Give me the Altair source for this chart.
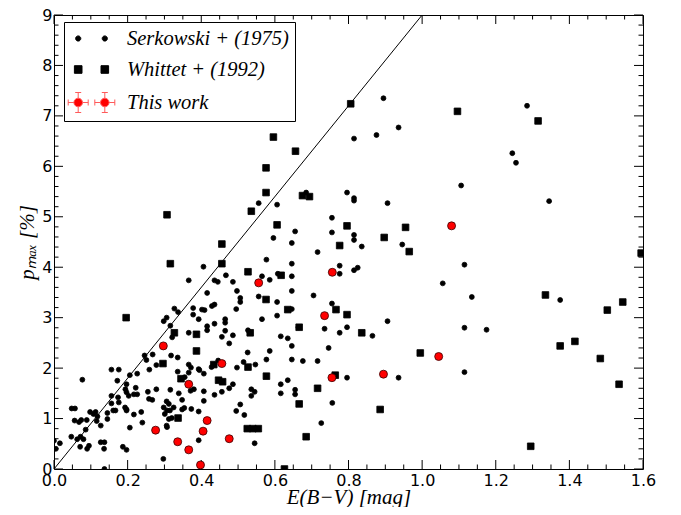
import altair as alt
import pandas as pd

# ---------------- data ----------------
serk_E = [0.895, 1.285, 0.815, 0.876, 0.936, 1.245, 1.255, 1.106, 0.685, 0.796, 0.815, 0.815,
          1.345, 0.946, 1.115, 1.056, 1.135, 1.375, 1.115, 1.175, 1.115, 0.936,
          0.556, 0.606, 0.906, 0.655, 0.596, 0.646, 0.755, 0.755, 0.815, 0.815, 0.836, 0.716,
          0.406, 0.577, 0.646, 0.565, 0.586, 0.608, 0.646, 0.467, 0.436, 0.445, 0.486, 0.416,
          0.497, 0.506, 0.506, 0.436, 0.429, 0.402, 0.409, 0.495, 0.556, 0.606, 0.646, 0.646,
          0.606, 0.565, 0.705, 0.776, 0.776, 0.815, 0.825, 0.755, 0.664, 0.735, 0.796, 0.906,
          0.527, 0.465, 0.465, 0.436, 0.416, 0.416, 0.393,
          0.465, 0.616, 0.635, 0.456, 0.486, 0.476, 0.646, 0.865, 0.776, 0.526, 0.586, 0.746,
          0.577, 0.646, 0.676, 0.716, 0.436, 0.428, 0.446, 0.515, 0.547, 0.497, 0.407, 0.393,
          0.486, 0.476, 0.796, 0.616, 0.635, 0.655, 0.655, 0.616, 0.536, 0.545, 0.536, 0.456,
          0.436, 0.407, 0.407, 0.756, 0.506, 0.495, 0.517, 0.393, 0.726, 0.545, 0.393,
          0.321, 0.366, 0.246, 0.268, 0.251, 0.318, 0.336, 0.278, 0.366, 0.372, 0.336, 0.355,
          0.366, 0.395, 0.156, 0.176, 0.206, 0.226, 0.259, 0.077, 0.172, 0.197, 0.194, 0.222,
          0.217, 0.156, 0.174, 0.197, 0.226, 0.255, 0.278, 0.267, 0.258, 0.316, 0.339, 0.348,
          0.371, 0.380, 0.156, 0.176, 0.203, 0.193, 0.197, 0.306, 0.312, 0.298, 0.307, 0.315,
          0.301, 0.325, 0.348, 0.354, 0.373, 0.048, 0.057, 0.098, 0.107, 0.113, 0.118, 0.145,
          0.161, 0.167, 0.197, 0.217, 0.237, 0.320, 0.312, 0.056, 0.068, 0.074, 0.089, 0.116,
          0.127, 0.145, 0.086, 0.072, 0.063, 0.080, 0.047, 0.016, 0.206, 0.240, 0.306, 0.307,
          0.005, 0.000, 0.071, 0.095, 0.090, 0.127, 0.137, 0.136, 0.187, 0.197, 0.297, 0.137,
          0.366, 0.327, 0.337, 0.378, 0.378, 0.298, 0.306, 0.316]
serk_p = [7.35, 7.20, 6.55, 6.62, 6.77, 6.26, 6.07, 5.62, 5.48, 5.48, 5.37, 5.32,
          5.31, 4.45, 4.05, 3.68, 3.41, 3.35, 2.80, 2.76, 1.92, 1.81,
          5.27, 5.24, 5.27, 4.71, 4.58, 4.48, 4.98, 4.69, 4.64, 4.54, 4.41, 4.30,
          4.01, 4.15, 4.07, 3.82, 3.75, 3.87, 3.82, 3.84, 3.74, 3.71, 3.71, 3.49,
          3.53, 3.39, 3.31, 3.26, 3.23, 3.16, 3.15, 3.17, 3.42, 3.31, 3.53, 3.17,
          3.04, 2.97, 3.44, 4.03, 3.87, 3.94, 3.99, 3.28, 2.81, 2.78, 2.81, 2.93,
          2.75, 2.97, 2.90, 2.88, 2.83, 2.75, 2.97,
          2.74, 2.63, 2.59, 2.62, 2.65, 2.49, 2.44, 2.64, 2.70, 2.31, 2.34, 2.40,
          2.17, 2.17, 2.14, 2.14, 2.07, 2.02, 2.15, 2.12, 2.07, 2.01, 1.89, 1.98,
          1.68, 1.60, 1.81, 1.68, 1.76, 1.57, 1.48, 1.50, 1.58, 1.53, 1.45, 1.53,
          1.47, 1.54, 1.35, 1.31, 1.28, 1.15, 1.07, 1.14, 0.91, 0.51, 0.57,
          2.61, 2.70, 2.25, 2.27, 2.16, 2.25, 2.21, 2.06, 2.07, 2.01, 1.93, 1.82,
          1.91, 1.96, 1.97, 1.97, 1.86, 1.89, 1.97, 1.77, 1.75, 1.68, 1.58, 1.61,
          1.48, 1.45, 1.42, 1.52, 1.48, 1.53, 1.58, 1.37, 1.39, 1.57, 1.50, 1.37,
          1.55, 1.58, 1.30, 1.32, 1.45, 1.22, 1.18, 1.34, 1.29, 1.22, 1.16, 1.16,
          1.09, 1.22, 1.18, 1.21, 1.19, 1.20, 1.20, 1.13, 1.09, 1.13, 1.04, 1.11,
          1.16, 1.16, 1.16, 1.08, 1.13, 1.01, 0.99, 0.96, 0.93, 0.97, 0.97, 0.95,
          0.86, 0.99, 0.78, 0.64, 0.59, 0.59, 0.64, 0.51, 0.82, 0.92, 0.86, 0.83,
          0.40, 0.56, 0.44, 0.46, 0.40, 0.53, 0.53, 0.40, 0.44, 0.38, 0.20, 0.00,
          3.74, 3.18, 3.11, 3.19, 3.06, 2.93, 3.00, 2.84]

whit_E = [0.806, 1.096, 1.315, 0.596, 0.656, 0.576, 0.576, 0.675, 0.694,
          0.536, 0.606, 0.796, 0.897, 0.776, 0.456, 0.456, 0.527, 0.617, 0.576, 0.635, 0.766,
          0.796, 0.666, 0.955, 0.965, 1.595, 1.335, 1.545, 1.503,
          1.375, 1.415, 1.484, 1.535, 1.295, 0.995,
          0.533, 0.836, 0.434, 0.527, 0.447, 0.458, 0.577, 0.764, 0.716, 0.666, 0.886,
          0.525, 0.540, 0.555, 0.685, 0.626,
          0.307, 0.316, 0.196, 0.327, 0.387, 0.387, 0.296, 0.345, 0.337]
whit_p = [7.24, 7.09, 6.90, 6.58, 6.30, 5.97, 5.48, 5.42, 5.40,
          5.11, 4.84, 4.82, 4.59, 4.43, 4.46, 4.07, 3.91, 3.84, 3.36, 3.16, 3.16,
          3.06, 2.81, 4.79, 4.31, 4.28, 3.45, 3.31, 3.15,
          2.44, 2.53, 2.19, 1.68, 0.45, 2.30,
          2.70, 2.70, 2.07, 2.02, 1.76, 1.73, 1.84, 1.86, 1.60, 1.29, 1.18,
          0.80, 0.80, 0.80, 0.64, 0.00,
          5.04, 4.07, 3.00, 2.70, 2.67, 2.34, 2.09, 1.79, 1.01]

this_E = [1.08, 0.756, 0.556, 0.735, 0.297, 0.456, 0.895, 0.755, 1.045,
          0.366, 0.416, 0.276, 0.405, 0.476, 0.336, 0.366, 0.398]
this_p = [4.82, 3.90, 3.69, 3.04, 2.44, 2.09, 1.88, 1.81, 2.23,
          1.68, 0.96, 0.77, 0.75, 0.60, 0.54, 0.38, 0.08]

line_E = [0.0, 1.0]
line_p = [0.0, 9.0]

x_major = [0.0, 0.2, 0.4, 0.6, 0.8, 1.0, 1.2, 1.4, 1.6]
y_major = [0, 1, 2, 3, 4, 5, 6, 7, 8, 9]
x_minor = [round(0.05 * i, 2) for i in range(33) if i % 4 != 0]
y_minor = [round(0.2 * i, 1) for i in range(46) if i % 5 != 0]

series_names = ["Serkowski + (1975)", "Whittet + (1992)", "This work"]


# ---------------- legend symbols (two markers per entry, like matplotlib) ----------------
def circ(cx, r):
    return (f"M{cx - r:.3f},0 A{r},{r} 0 1,0 {cx + r:.3f},0 "
            f"A{r},{r} 0 1,0 {cx - r:.3f},0 Z ")


def sq(cx, h):
    return (f"M{cx - h:.3f},{-h} L{cx + h:.3f},{-h} L{cx + h:.3f},{h} "
            f"L{cx - h:.3f},{h} Z ")


def errmark(cx, r, e, c):
    s = circ(cx, r)
    s += f"M{cx - e:.3f},0 L{cx - r:.3f},0 M{cx + r:.3f},0 L{cx + e:.3f},0 "
    s += f"M{cx:.3f},{-e} L{cx:.3f},{-r} M{cx:.3f},{r} L{cx:.3f},{e} "
    s += f"M{cx - e:.3f},{-c} L{cx - e:.3f},{c} M{cx + e:.3f},{-c} L{cx + e:.3f},{c} "
    s += f"M{cx - c:.3f},{-e} L{cx + c:.3f},{-e} M{cx - c:.3f},{e} L{cx + c:.3f},{e} "
    return s


C = 1.33
path_dots = circ(-C, 0.26) + circ(C, 0.26)
path_squares = sq(-C, 0.38) + sq(C, 0.38)
path_red = errmark(-C, 0.43, 1.0, 0.3) + errmark(C, 0.43, 1.0, 0.3)

# ---------------- chart ----------------
df = pd.DataFrame({
    "E": serk_E + whit_E + this_E,
    "p": serk_p + whit_p + this_p,
    "series": [series_names[0]] * len(serk_E) + [series_names[1]] * len(whit_E)
              + [series_names[2]] * len(this_E),
})
line_df = pd.DataFrame({"E": line_E, "p": line_p})
legend_df = pd.DataFrame({"series": series_names})

W, H = 589, 454
xs = alt.Scale(domain=[0, 1.6], nice=False, zero=False)
ys = alt.Scale(domain=[0, 9], nice=False, zero=False)

x_axis = alt.Axis(values=x_major, format=".1f", ticks=False, tickSize=0, domain=False,
                  grid=False, labelFont="DejaVu Sans", labelFontSize=16, labelColor="black",
                  labelPadding=3, labelFlush=False, labelOverlap=False,
                  title="E(B−V) [mag]", titleFont="Liberation Serif", titleFontStyle="italic",
                  titleFontWeight="normal", titleFontSize=21, titleColor="black",
                  titleBaseline="alphabetic", titleY=34)
y_axis = alt.Axis(values=y_major, format="d", ticks=False, tickSize=0, domain=False,
                  grid=False, labelFont="DejaVu Sans", labelFontSize=16, labelColor="black",
                  labelPadding=2, labelFlush=False, labelOverlap=False,
                  title="pₘₐₓ [%]", titleFont="Liberation Serif", titleFontStyle="italic",
                  titleFontWeight="normal", titleFontSize=21, titleColor="black",
                  titlePadding=4)

points = alt.Chart(df).mark_point(filled=True, opacity=1, strokeWidth=0.8, clip=True).encode(
    x=alt.X("E:Q", scale=xs, axis=x_axis),
    y=alt.Y("p:Q", scale=ys, axis=y_axis),
    color=alt.Color("series:N", scale=alt.Scale(domain=series_names,
                    range=["black", "black", "#ff0000"]), legend=None),
    shape=alt.Shape("series:N", scale=alt.Scale(domain=series_names,
                    range=["circle", "square", "circle"]), legend=None),
    size=alt.Size("series:N", scale=alt.Scale(domain=series_names,
                  range=[24, 64, 95]), legend=None),
    stroke=alt.Stroke("series:N", scale=alt.Scale(domain=series_names,
                      range=["black", "black", "#3a0000"]), legend=None),
)

leg = alt.Legend(title=None, orient="none", legendX=10, legendY=7,
                 fillColor="white", strokeColor="black", padding=6, cornerRadius=0,
                 labelFont="Liberation Serif", labelFontStyle="italic", labelFontSize=20.5,
                 labelColor="black", labelLimit=400, symbolOffset=11, labelOffset=25,
                 rowPadding=10, symbolSize=400, symbolStrokeWidth=1, symbolOpacity=1)

legend_layer = alt.Chart(legend_df).transform_filter("false").mark_point(
    filled=True, opacity=1, strokeWidth=1).encode(
    color=alt.Color("series:N", scale=alt.Scale(domain=series_names,
                    range=["black", "black", "#ff0000"]), legend=leg),
    shape=alt.Shape("series:N", scale=alt.Scale(domain=series_names,
                    range=[path_dots, path_squares, path_red]), legend=leg),
    stroke=alt.Stroke("series:N", scale=alt.Scale(domain=series_names,
                      range=["black", "black", "#ff5a5a"]), legend=leg),
)

line = alt.Chart(line_df).mark_line(color="black", strokeWidth=1, clip=True).encode(
    x=alt.X("E:Q", scale=xs, axis=x_axis),
    y=alt.Y("p:Q", scale=ys, axis=y_axis),
)


def xticks(vals, length, top):
    d = pd.DataFrame({"E": vals})
    if top:
        yv, y2v = alt.value(0), alt.value(length)
    else:
        yv, y2v = alt.value(H), alt.value(H - length)
    return alt.Chart(d).mark_rule(color="black", strokeWidth=1).encode(
        x=alt.X("E:Q", scale=xs, axis=x_axis), y=yv, y2=y2v)


def yticks(vals, length, right):
    d = pd.DataFrame({"p": vals})
    if right:
        xv, x2v = alt.value(W), alt.value(W - length)
    else:
        xv, x2v = alt.value(0), alt.value(length)
    return alt.Chart(d).mark_rule(color="black", strokeWidth=1).encode(
        y=alt.Y("p:Q", scale=ys, axis=y_axis), x=xv, x2=x2v)


ticks = [xticks(x_major, 9, False), xticks(x_major, 9, True),
         xticks(x_minor, 4.5, False), xticks(x_minor, 4.5, True),
         yticks(y_major, 9, False), yticks(y_major, 9, True),
         yticks(y_minor, 4.5, False), yticks(y_minor, 4.5, True)]

chart = alt.layer(*ticks, line, points, legend_layer).resolve_scale(
    color="independent", shape="independent", stroke="independent", size="independent"
).properties(
    width=W, height=H,
    autosize=alt.AutoSizeParams(type="none"),
    padding={"left": 46, "top": 7, "right": 30, "bottom": 38},
).configure_view(stroke="black", strokeWidth=1)

chart.save("out.html", embed_options={"renderer": "svg", "actions": False})
